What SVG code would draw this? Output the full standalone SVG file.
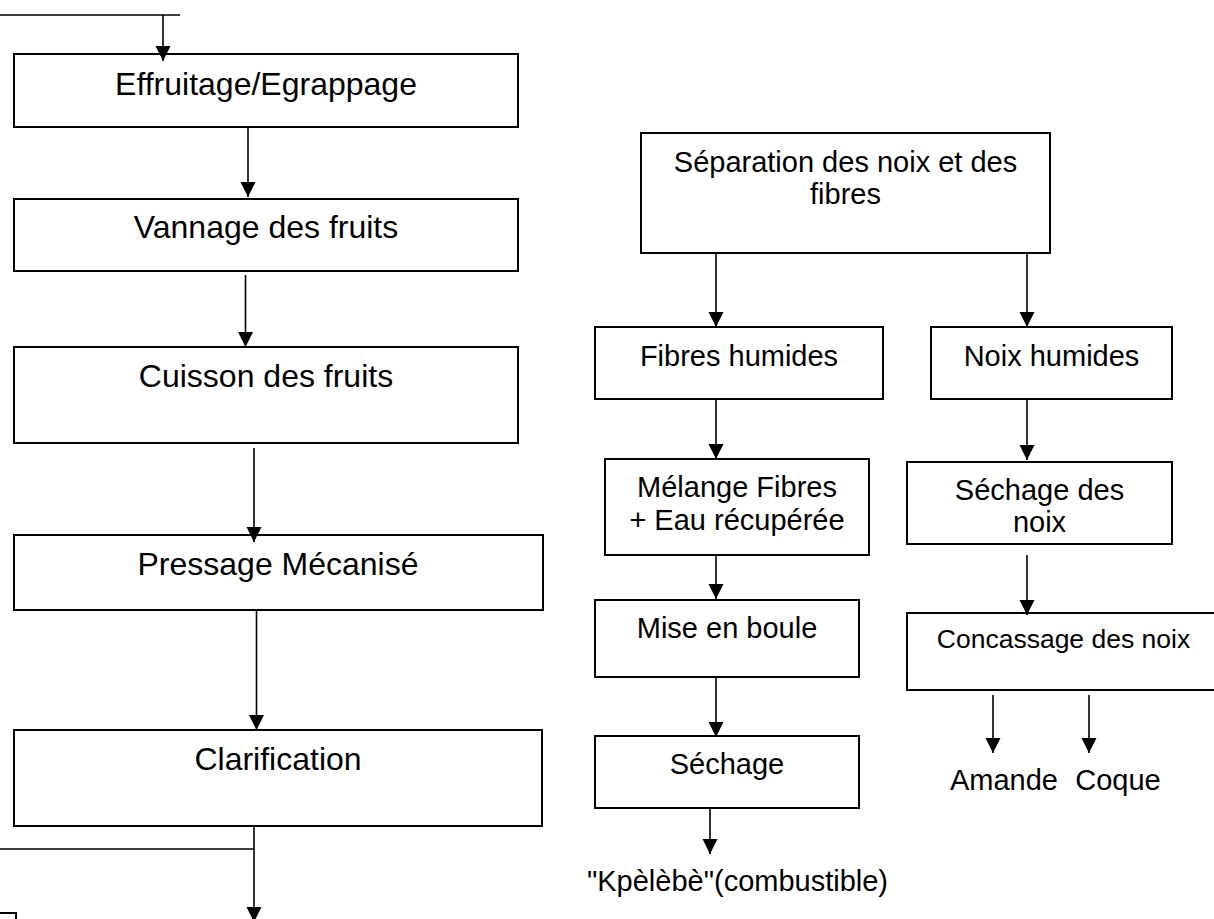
<svg xmlns="http://www.w3.org/2000/svg" width="1214" height="919" viewBox="0 0 1214 919">
<style>
.box{fill:#fff;stroke:#000;stroke-width:2}
.ln{fill:none;stroke:#000;stroke-width:1.6}
.arr{fill:none;stroke:#000;stroke-width:1.6;marker-end:url(#ah)}
text{font-family:"Liberation Sans",Arial,sans-serif;fill:#000;text-anchor:middle}
.l{font-size:32px}
.r{font-size:29px}
.s{font-size:26.5px}
</style>
<defs>
<marker id="ah" markerUnits="userSpaceOnUse" markerWidth="16" markerHeight="16" refX="15" refY="7.5" orient="auto">
<path d="M0,0 L15,7.5 L0,15 z" fill="#000"/>
</marker>
</defs>
<rect width="1214" height="919" fill="#fff"/>
<g id="n-effruitage"><rect class="box" x="14" y="54" width="504" height="73"/><text class="l" x="266" y="95">Effruitage/Egrappage</text></g>
<g id="n-vannage"><rect class="box" x="14" y="199" width="504" height="72"/><text class="l" x="266" y="238">Vannage des fruits</text></g>
<g id="n-cuisson"><rect class="box" x="14" y="347" width="504" height="96"/><text class="l" x="266" y="387">Cuisson des fruits</text></g>
<g id="n-pressage"><rect class="box" x="14" y="535" width="529" height="75"/><text class="l" x="278" y="575">Pressage Mécanisé</text></g>
<g id="n-clarification"><rect class="box" x="14" y="730" width="528" height="96"/><text class="l" x="278" y="770">Clarification</text></g>
<g id="n-small"><rect class="box" x="-10" y="913" width="26" height="20"/></g>
<g id="n-separation"><rect class="box" x="641" y="133" width="409" height="120"/><text class="r" x="845.5" y="172">Séparation des noix et des</text><text class="r" x="845.5" y="204">fibres</text></g>
<g id="n-fibres"><rect class="box" x="595" y="327" width="288" height="72"/><text class="r" x="739" y="366">Fibres humides</text></g>
<g id="n-noix"><rect class="box" x="931" y="327" width="241" height="72"/><text class="r" x="1051.5" y="366">Noix humides</text></g>
<g id="n-melange"><rect class="box" x="605" y="459" width="264" height="96"/><text class="r" x="737" y="497">Mélange Fibres</text><text class="r" x="737" y="530">+ Eau récupérée</text></g>
<g id="n-sechage-noix"><rect class="box" x="907" y="462" width="265" height="82"/><text class="r" x="1039.5" y="500">Séchage des</text><text class="r" x="1039.5" y="532">noix</text></g>
<g id="n-mise"><rect class="box" x="595" y="600" width="264" height="77"/><text class="r" x="727" y="638">Mise en boule</text></g>
<g id="n-concassage"><rect class="box" x="907" y="613" width="314" height="77"/><text class="s" x="1063.5" y="648">Concassage des noix</text></g>
<g id="n-sechage"><rect class="box" x="595" y="736" width="264" height="72"/><text class="r" x="727" y="774">Séchage</text></g>
<g id="n-kpelebe"><text class="r" x="737.5" y="891">"Kpèlèbè"(combustible)</text></g>
<g id="n-amande"><text class="r" x="1004" y="790">Amande</text></g>
<g id="n-coque"><text class="r" x="1118" y="790">Coque</text></g>
<g id="connectors">
<path class="ln" d="M0,15 H180"/>
<path class="arr" d="M163,15 V61"/>
<path class="arr" d="M248,127 V197"/>
<path class="arr" d="M245.5,275 V347"/>
<path class="arr" d="M254,448 V542"/>
<path class="arr" d="M256.5,610 V730"/>
<path class="ln" d="M0,849 H254"/>
<path class="arr" d="M254,826 V922"/>
<path class="arr" d="M716,253 V327"/>
<path class="arr" d="M1027,253 V327"/>
<path class="arr" d="M716,399 V459"/>
<path class="arr" d="M1027,399 V460"/>
<path class="arr" d="M716,555 V599"/>
<path class="arr" d="M1027,555 V615"/>
<path class="arr" d="M716,677 V737"/>
<path class="arr" d="M710,808 V854"/>
<path class="arr" d="M993,695 V753"/>
<path class="arr" d="M1089,695 V753"/>
</g>
</svg>
